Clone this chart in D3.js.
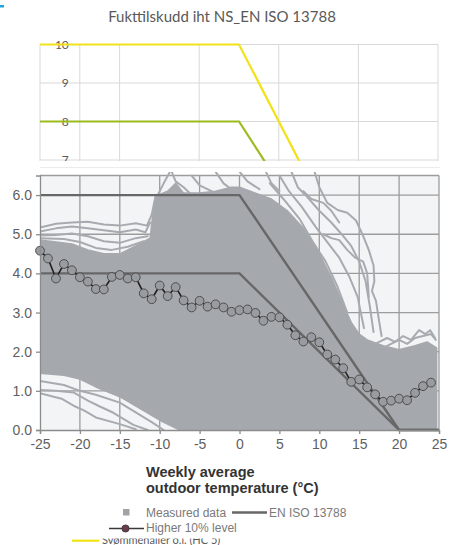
<!DOCTYPE html>
<html>
<head>
<meta charset="utf-8">
<script src="https://cdn.jsdelivr.net/npm/d3@7"></script>
<style>
  html, body { margin: 0; padding: 0; background: #ffffff; }
  svg { display: block; }
</style>
</head>
<body>
<svg id="chart" width="449" height="545"></svg>
<script>
// ---------- Upper chart: moisture supply classes (Excel-style scatter) ----------
const upperTemps = [-25, 0, 25];
const hc5Values = [10, 10, 0];   // Svømmehaller o.l. (HC 5)
const hc4Values = [8, 8, 0];
const upperYTicks = [7, 8, 9, 10];
const upperGridY = [0, 1, 2, 3, 4, 5, 6, 7, 8, 9, 10];
const upperGridX = [-25, -15, -5, 5, 15, 25];

// ---------- Lower chart: measured weekly moisture supply ----------
const xTicks = [-25, -20, -15, -10, -5, 0, 5, 10, 15, 20, 25];
const yTicks = [0, 1, 2, 3, 4, 5, 6];

// EN ISO 13788 class limits
const isoTemps = [-25, 0, 20, 25];
const isoHigh = [6, 6, 0, 0];
const isoLow = [4, 4, 0, 0];

// Higher 10% level, one point per degree
const levelTemps = [-25, -24, -23, -22, -21, -20, -19, -18, -17, -16, -15, -14, -13, -12, -11,
  -10, -9, -8, -7, -6, -5, -4, -3, -2, -1, 0, 1, 2, 3, 4, 5, 6, 7, 8, 9, 10, 11, 12, 13, 14,
  15, 16, 17, 18, 19, 20, 21, 22, 23, 24];
const levelValues = [4.58, 4.38, 3.87, 4.24, 4.08, 3.90, 3.79, 3.60, 3.59, 3.91, 3.96, 3.87, 3.90, 3.49, 3.34,
  3.69, 3.42, 3.65, 3.31, 3.13, 3.30, 3.15, 3.21, 3.13, 3.02, 3.06, 3.08, 2.99, 2.79, 2.89,
  2.88, 2.69, 2.42, 2.26, 2.37, 2.24, 1.93, 1.80, 1.58, 1.23, 1.29, 1.09, 0.91, 0.72, 0.75,
  0.80, 0.76, 0.95, 1.12, 1.21];

// Envelope of the dense cloud of measured weekly curves
const cloudTop = [[-25, 4.85], [-23, 4.8], [-21, 4.75], [-19, 4.6], [-17, 4.5], [-15, 4.5], [-13, 4.7],
  [-11.2, 4.9], [-10.7, 5.8], [-10.2, 6.0], [-9, 6.1], [-8, 6.3], [-7, 6.05], [-5, 6.05], [-3, 6.1],
  [-1, 6.2], [0, 6.2], [2, 6.05], [4, 5.9], [6, 5.6], [8, 5.15], [10, 4.5], [11.5, 3.9], [13, 3.2],
  [14, 2.75], [15, 2.45], [16, 2.3], [18, 2.15], [20, 2.05], [22, 2.15], [23.5, 2.25], [24.7, 2.1]];
const cloudBottom = [[-25, 1.45], [-22, 1.4], [-20, 1.3], [-18, 1.1], [-15, 0.85], [-12.5, 0.55],
  [-10, 0.25], [-7.5, 0], [24.7, 0]];

// Individual curves standing out of the cloud
const strayCurves = [
  [[-25, 5.17], [-23, 5.27], [-21, 5.3], [-19, 5.32], [-17, 5.25], [-15, 5.22], [-13, 5.28], [-11.6, 5.22], [-11, 5.5], [-10.5, 6.0]],
  [[-25, 5.07], [-23, 5.15], [-21, 5.2], [-19, 5.15], [-17, 5.1], [-15, 5.05], [-13, 5.12], [-11.8, 5.05], [-11.2, 5.3]],
  [[-25, 4.97], [-23, 4.98], [-21, 5.02], [-19, 4.95], [-17, 4.82], [-15, 4.78], [-13, 4.9], [-11.5, 4.95]],
  [[-25, 4.9], [-22, 4.88], [-20, 4.8], [-18, 4.65], [-16, 4.6], [-14, 4.68], [-12, 4.82]],
  [[-10.5, 5.9], [-9.5, 6.3], [-8.7, 6.6]],
  [[-8.5, 6.6], [-8, 6.35], [-7, 6.2], [-6, 6.0]],
  [[-6, 6.5], [-5, 6.25], [-3.5, 6.1]],
  [[-3, 6.6], [-2, 6.3], [-1, 6.15]],
  [[0, 6.6], [1, 6.35], [2.5, 6.15]],
  [[3.3, 6.6], [4, 6.3], [5, 6.1]],
  [[9.4, 6.6], [10, 6.2], [11, 5.8], [12.3, 5.62], [13.5, 5.55], [14.6, 5.35], [15.4, 5.0], [16.2, 4.6],
   [16.8, 4.2], [16.9, 3.8], [16.6, 3.55], [17.1, 3.3], [17.4, 2.9], [17.8, 2.4]],
  [[6.5, 6.6], [7.3, 6.2], [8.5, 5.95], [10, 5.6], [11.5, 5.3], [12.8, 5.0], [14, 4.7], [15, 4.3],
   [15.8, 3.8], [16.3, 3.2], [16.8, 2.5]],
  [[5, 6.5], [6.2, 6.1], [7.8, 5.7], [9.5, 5.2], [11, 4.8], [12.5, 4.4], [13.8, 3.9], [14.8, 3.4], [15.6, 2.6]],
  [[3.8, 6.3], [5.5, 5.9], [7.5, 5.4], [9.2, 4.8], [10.8, 4.3], [12.2, 3.7], [13.5, 3.0]],
  [[10.5, 5.0], [11.5, 4.9], [12.5, 4.85], [13.5, 4.6], [14.5, 4.4], [15.5, 4.3], [16, 4.0], [16.2, 3.4]],
  [[8, 6.1], [9, 5.9], [10.5, 5.8], [11.5, 5.6], [12.5, 5.3]],
  [[17, 2.2], [18.5, 2.35], [19.5, 2.25], [20.5, 2.4], [21.5, 2.3], [22.5, 2.55], [23.3, 2.45], [23.9, 2.55], [24.5, 2.35]],
  [[18, 2.1], [19, 2.2], [20, 2.3], [21, 2.2], [22, 2.35], [24, 2.45], [24.6, 2.3]],
  [[-25, 1.02], [-23, 1.0], [-20.8, 0.96], [-19, 0.75], [-17.5, 0.6], [-15.8, 0.44], [-13.3, 0.13], [-11.5, 0]],
  [[-25, 0.94], [-22.3, 0.8], [-20.8, 0.62], [-19.5, 0.5], [-18, 0.32], [-15, 0.15], [-13, 0.02]],
  [[-25, 1.25], [-22, 1.15], [-20, 1.0], [-18, 0.9], [-15, 0.7], [-13, 0.45], [-11, 0.2], [-9.5, 0]]
];

const svg = d3.select("#chart");
const sans = "'Liberation Sans', Arial, sans-serif";
const soft = "Lato, 'Open Sans', sans-serif";

// small accent mark in the corner
svg.append("rect").attr("x", 0).attr("y", 5).attr("width", 4).attr("height", 2.5).attr("fill", "#1fa3e0");

// title
svg.append("text").attr("x", 222).attr("y", 22).attr("text-anchor", "middle")
  .attr("font-family", soft).attr("font-size", 15).attr("fill", "#595959")
  .text("Fukttilskudd iht NS_EN ISO 13788");

// ----- upper chart -----
const ux = d3.scaleLinear().domain([-25, 25]).range([40, 438]);
const uy = d3.scaleLinear().domain([0, 10]).range([429.5, 44.5]);

const ug = svg.append("g");
ug.selectAll("line.gy").data(upperGridY).join("line")
  .attr("x1", ux(-25)).attr("x2", ux(25)).attr("y1", d => uy(d)).attr("y2", d => uy(d))
  .attr("stroke", "#d9d9d9").attr("stroke-width", 1);
ug.selectAll("line.gx").data(upperGridX).join("line")
  .attr("x1", d => ux(d)).attr("x2", d => ux(d)).attr("y1", uy(10)).attr("y2", uy(0))
  .attr("stroke", "#d9d9d9").attr("stroke-width", 1);
// vertical axis crossing at -20
ug.append("line").attr("x1", ux(-20)).attr("x2", ux(-20)).attr("y1", uy(10)).attr("y2", uy(0))
  .attr("stroke", "#d9d9d9").attr("stroke-width", 1);
ug.selectAll("text.yl").data(upperYTicks).join("text")
  .attr("x", ux(-20) - 11).attr("y", d => uy(d) + 4).attr("text-anchor", "end")
  .attr("font-family", soft).attr("font-size", 12).attr("fill", "#595959").text(d => d);

const uline = d3.line().x(d => ux(d[0])).y(d => uy(d[1]));
ug.append("path").datum(upperTemps.map((t, i) => [t, hc4Values[i]])).attr("d", uline)
  .attr("fill", "none").attr("stroke", "#9bbb1f").attr("stroke-width", 2.2);
ug.append("path").datum(upperTemps.map((t, i) => [t, hc5Values[i]])).attr("d", uline)
  .attr("fill", "none").attr("stroke", "#f2e21a").attr("stroke-width", 2.2);

// upper legend entry (partly covered by the inserted figure)
ug.append("line").attr("x1", 72).attr("x2", 99).attr("y1", 540.7).attr("y2", 540.7)
  .attr("stroke", "#f2e21a").attr("stroke-width", 2.2);
ug.append("text").attr("x", 102).attr("y", 543.8).attr("font-family", soft).attr("font-size", 11)
  .attr("fill", "#595959").text("Svømmehaller o.l. (HC 5)");

// ----- inserted figure (covers middle part of the upper chart) -----
svg.append("rect").attr("x", 0).attr("y", 161).attr("width", 449).attr("height", 377.5).attr("fill", "#ffffff");
svg.append("line").attr("x1", 40).attr("x2", 440).attr("y1", 167.5).attr("y2", 167.5)
  .attr("stroke", "#ececec").attr("stroke-width", 1);

const x = d3.scaleLinear().domain([-25, 25]).range([40, 439]);
const y = d3.scaleLinear().domain([0, 6.5]).range([430, 175.5]);

const g = svg.append("g");
g.append("rect").attr("x", x(-25)).attr("y", y(6.5)).attr("width", x(25) - x(-25)).attr("height", y(0) - y(6.5))
  .attr("fill", "#f3f4f6");

// grid
g.selectAll("line.vx").data(xTicks.slice(1)).join("line")
  .attr("x1", d => x(d)).attr("x2", d => x(d)).attr("y1", y(6.5)).attr("y2", y(0))
  .attr("stroke", "#9c9c9c").attr("stroke-width", 1.3);
g.selectAll("line.hy").data(yTicks.slice(1).concat([6.5])).join("line")
  .attr("x1", x(-25)).attr("x2", x(25)).attr("y1", d => y(d)).attr("y2", d => y(d))
  .attr("stroke", "#9c9c9c").attr("stroke-width", 1.3);

svg.append("clipPath").attr("id", "plotclip").append("rect")
  .attr("x", x(-25)).attr("y", 172).attr("width", x(25) - x(-25) - 1).attr("height", y(0) - 172);

const cloudColor = "#a5a9ae";
const pg = g.append("g").attr("clip-path", "url(#plotclip)");
const area = d3.line().x(d => x(d[0])).y(d => y(d[1]));
pg.append("path").datum(cloudTop.concat(cloudBottom.slice().reverse())).attr("d", d => area(d) + "Z")
  .attr("fill", cloudColor).attr("stroke", cloudColor).attr("stroke-width", 1.5).attr("stroke-linejoin", "round");
pg.selectAll("path.stray").data(strayCurves).join("path")
  .attr("d", area).attr("fill", "none").attr("stroke", "#a7abb0").attr("stroke-width", 2)
  .attr("stroke-linejoin", "round").attr("stroke-linecap", "round");

// EN ISO 13788 limits
const iso = d3.line().x(d => x(d[0])).y(d => y(d[1]));
[isoHigh, isoLow].forEach(vals => {
  g.append("path").datum(isoTemps.map((t, i) => [t, vals[i]])).attr("d", iso)
    .attr("fill", "none").attr("stroke", "#676767").attr("stroke-width", 2.4);
});

// higher 10% level
const levelPts = levelTemps.map((t, i) => [t, levelValues[i]]);
g.append("path").datum(levelPts).attr("d", d3.line().x(d => x(d[0])).y(d => y(d[1])))
  .attr("fill", "none").attr("stroke", "#1e1e1e").attr("stroke-width", 1.6);
g.selectAll("circle.lv").data(levelPts).join("circle")
  .attr("cx", d => x(d[0])).attr("cy", d => y(d[1])).attr("r", 4.4)
  .attr("fill", "#989ca1").attr("stroke", "#4d4d4d").attr("stroke-width", 1);

// axes
const xAxis = g.append("g").attr("transform", `translate(0,${y(0)})`)
  .call(d3.axisBottom(x).tickValues(xTicks).tickSize(4).tickPadding(5).tickFormat(d3.format("d")));
xAxis.select(".domain").attr("stroke", "#8c8c8c").attr("stroke-width", 1.3);
xAxis.selectAll(".tick line").attr("stroke", "#8c8c8c").attr("stroke-width", 1.3);
xAxis.selectAll("text").attr("font-family", sans).attr("font-size", 14).attr("fill", "#5f5f5f")
  .text(d => d < 0 ? "-" + Math.abs(d) : d);

const yAxis = g.append("g").attr("transform", `translate(${x(-25)},0)`)
  .call(d3.axisLeft(y).tickValues(yTicks).tickSize(4).tickPadding(4).tickFormat(d3.format(".1f")));
yAxis.select(".domain").attr("stroke", "#8c8c8c").attr("stroke-width", 1.3);
yAxis.selectAll(".tick line").attr("stroke", "#8c8c8c").attr("stroke-width", 1.3);
yAxis.selectAll("text").attr("font-family", sans).attr("font-size", 14).attr("fill", "#5f5f5f");

// x axis title
const xt = svg.append("text").attr("font-family", sans).attr("font-size", 14.5).attr("font-weight", "bold").attr("fill", "#333333");
xt.append("tspan").attr("x", 146).attr("y", 476.5).text("Weekly average");
xt.append("tspan").attr("x", 146).attr("y", 492.5).text("outdoor temperature (°C)");

// legend
const lg = svg.append("g").attr("font-family", sans).attr("font-size", 12).attr("fill", "#7a7a7a");
lg.append("rect").attr("x", 123).attr("y", 509).attr("width", 6.5).attr("height", 6.5).attr("fill", "#a0a4a9");
lg.append("text").attr("x", 146).attr("y", 516.5).text("Measured data");
lg.append("line").attr("x1", 232).attr("x2", 267).attr("y1", 512.5).attr("y2", 512.5)
  .attr("stroke", "#676767").attr("stroke-width", 2.4);
lg.append("text").attr("x", 269).attr("y", 516.5).text("EN ISO 13788");
lg.append("line").attr("x1", 109).attr("x2", 144).attr("y1", 528.5).attr("y2", 528.5)
  .attr("stroke", "#3a3a3a").attr("stroke-width", 1.6);
lg.append("circle").attr("cx", 125.5).attr("cy", 528.5).attr("r", 3.6).attr("fill", "#6b3d48").attr("stroke", "#333").attr("stroke-width", 0.8);
lg.append("text").attr("x", 146).attr("y", 532).text("Higher 10% level");
</script>
</body>
</html>
